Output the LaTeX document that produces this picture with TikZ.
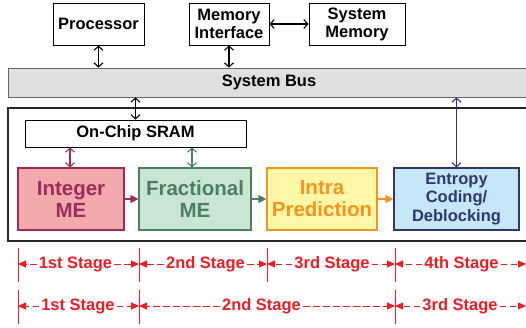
\documentclass[tikz,border=0pt]{standalone}
\usepackage{fontspec}
\setmainfont{Liberation Sans}
\usetikzlibrary{arrows.meta,calc}
\definecolor{imeB}{HTML}{9B2C5E}
\definecolor{imeF}{HTML}{F4A9AC}
\definecolor{fmeB}{HTML}{4B7F5F}
\definecolor{fmeF}{HTML}{C9E5D3}
\definecolor{intB}{HTML}{F7931E}
\definecolor{intF}{HTML}{FFF7A8}
\definecolor{entB}{HTML}{2E3770}
\definecolor{entF}{HTML}{C6E7F7}
\definecolor{busF}{HTML}{E0E0E2}
\definecolor{stg}{HTML}{EE1C25}
\begin{document}
\begin{tikzpicture}[x=1pt,y=-1pt,
  box/.style={draw, line width=1pt, inner sep=0pt, align=center,
    font=\fontsize{16.5}{18}\selectfont\bfseries},
  stagebox/.style={draw, line width=1.2pt, inner sep=0pt, align=center,
    minimum height=62pt, font=\fontsize{20.5}{22}\selectfont\bfseries},
  biarrow/.style={line width=1.1pt,
    {Straight Barb[length=4pt,width=9pt]}-{Straight Barb[length=4pt,width=9pt]}},
  flowarrow/.style={line width=1.3pt, -{Triangle[length=8pt,width=8pt]}},
  tick/.style={draw=stg, line width=1pt},
  stagelbl/.style={text=stg, inner sep=2pt, font=\fontsize{16.5}{18}\selectfont\bfseries},
  stagearrow/.style={draw=stg, line width=1pt, dash pattern=on 6.5pt off 3.5pt,
    -{Triangle[length=8pt,width=7pt]}}]
\useasboundingbox (0,0) rectangle (526,327);
\clip (0,0) rectangle (526,327);
\fill[white] (0,0) rectangle (526,327);

% top row
\node[box, minimum width=91pt, minimum height=42pt] (proc) at (98.5,24) {Processor};
\node[box, minimum width=80pt, minimum height=42pt] (memif) at (229,24) {Memory\\Interface};
\node[box, minimum width=96pt, minimum height=42pt] (sysmem) at (357,24) {System\\Memory};

% system bus
\node[draw=black!60, line width=0.8pt, fill=busF, minimum width=532pt, minimum height=29pt, inner sep=0pt] (bus) at (274,82.5) {};
\node[font=\fontsize{16.5}{18}\selectfont\bfseries, inner sep=0pt] (bustext) at (269,82.5) {System Bus};

% big box
\node[draw=black!85, line width=1.5pt, minimum width=532pt, minimum height=133pt, inner sep=0pt] (chip) at (274,174.5) {};

% SRAM and stage boxes
\node[box, minimum width=221pt, minimum height=27pt] (sram) at (135.5,133.5) {On-Chip SRAM};
\node[stagebox, draw=imeB, fill=imeF, text=imeB, minimum width=106pt] (ime) at (71,199) {Integer\\ME};
\node[stagebox, draw=fmeB, fill=fmeF, text=fmeB, minimum width=112pt] (fme) at (195,199) {Fractional\\ME};
\node[stagebox, draw=intB, fill=intF, text=intB, minimum width=110pt] (intra) at (322,199) {Intra\\Prediction};
\node[stagebox, draw=entB, fill=entF, text=entB, minimum width=125pt,
  font=\fontsize{16.5}{18.5}\selectfont\bfseries] (ent) at (456.5,199) {Entropy\\Coding/\\Deblocking};

% connectors
\draw[biarrow] (proc.south) -- (proc.south |- bus.north);
\draw[biarrow] (memif.south) -- (memif.south |- bus.north);
\draw[biarrow] (memif.east) -- (sysmem.west);
\draw[biarrow] (sram.north) -- (sram.north |- bus.south);
\draw[biarrow, draw=entB] (ent.north) -- (ent.north |- bus.south);
\draw[biarrow, draw=imeB] ([xshift=-1pt]ime.north) -- ([xshift=-1pt]ime.north |- sram.south);
\draw[biarrow, draw=fmeB] ([xshift=-3pt]fme.north) -- ([xshift=-3pt]fme.north |- sram.south);
\draw[flowarrow, draw=imeB, fill=imeB] (ime.east) -- (fme.west);
\draw[flowarrow, draw=fmeB, fill=fmeB] (fme.east) -- (intra.west);
\draw[flowarrow, draw=intB, fill=intB] (intra.east) -- (ent.west);

% stage ticks row 1
\coordinate (a0) at (18,264);
\coordinate (a1) at (139,264);
\coordinate (a2) at (267,264);
\coordinate (a3) at (395,264);
\coordinate (a4) at (526,264);
\foreach \c in {a0,a1,a2,a3} \draw[tick] ([yshift=16pt]\c) -- ([yshift=-18pt]\c);
\node[stagelbl] (s11) at (75.5,264) {1st Stage};
\node[stagelbl] (s12) at (205.5,264) {2nd Stage};
\node[stagelbl] (s13) at (332,264) {3rd Stage};
\node[stagelbl] (s14) at (461.5,264) {4th Stage};
\draw[stagearrow] (s11.west) -- (a0);
\draw[stagearrow] (s11.east) -- (a1);
\draw[stagearrow] (s12.west) -- (a1);
\draw[stagearrow] (s12.east) -- (a2);
\draw[stagearrow] (s13.west) -- (a2);
\draw[stagearrow] (s13.east) -- (a3);
\draw[stagearrow] (s14.west) -- (a3);
\draw[stagearrow] (s14.east) -- (a4);

% stage ticks row 2
\coordinate (b0) at (18,306);
\coordinate (b1) at (139,306);
\coordinate (b3) at (395,306);
\coordinate (b4) at (526,306);
\foreach \c in {b0,b1,b3} \draw[tick] ([yshift=16pt]\c) -- ([yshift=-18pt]\c);
\node[stagelbl] (s21) at (78,306) {1st Stage};
\node[stagelbl] (s22) at (261.5,306) {2nd Stage};
\node[stagelbl] (s23) at (460,306) {3rd Stage};
\draw[stagearrow] (s21.west) -- (b0);
\draw[stagearrow] (s21.east) -- (b1);
\draw[stagearrow] (s22.west) -- (b1);
\draw[stagearrow] (s22.east) -- (b3);
\draw[stagearrow] (s23.west) -- (b3);
\draw[stagearrow] (s23.east) -- (b4);
\end{tikzpicture}
\end{document}
